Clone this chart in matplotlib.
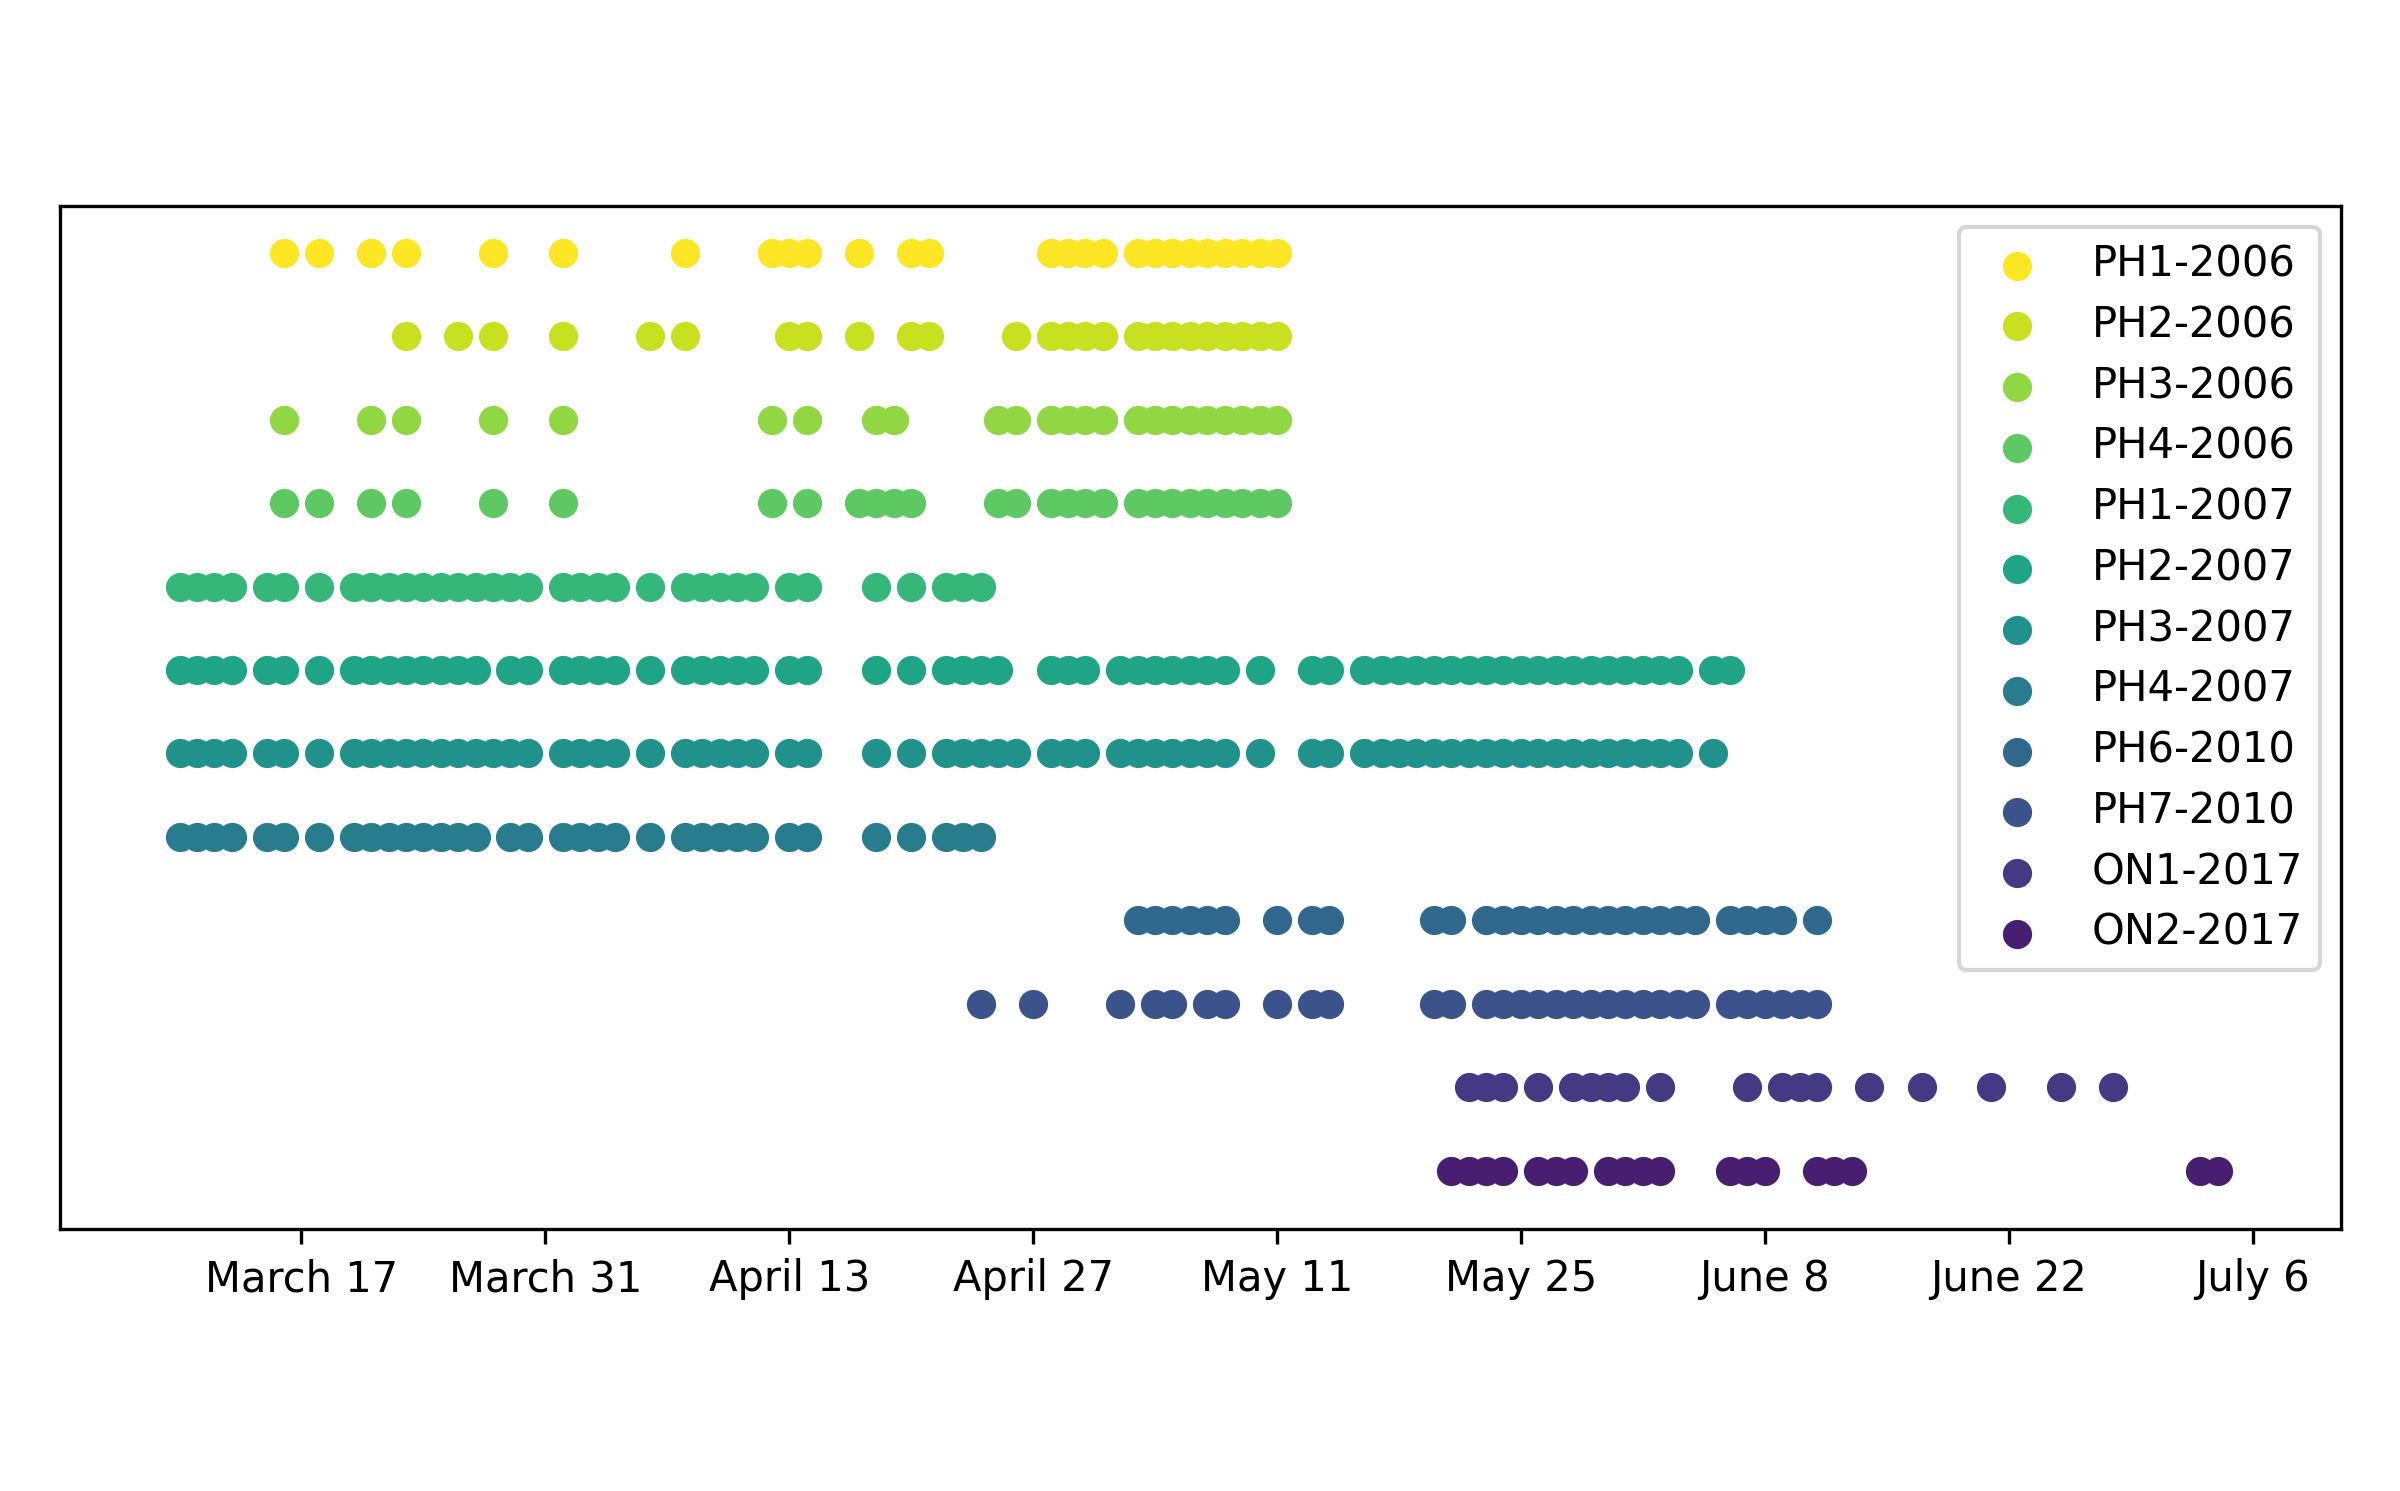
import numpy as np
import matplotlib
matplotlib.use('Agg')
import matplotlib.pyplot as plt

# jours (jour de l'annee) ou chaque site a ete observe
ph1_2006 = [75, 77, 80, 82, 87, 91, 98, 103, 104, 105, 108, 111, 112, 119, 120, 121, 122,
            124, 125, 126, 127, 128, 129, 130, 131, 132]
ph2_2006 = [82, 85, 87, 91, 96, 98, 104, 105, 108, 111, 112, 117, 119, 120, 121, 122,
            124, 125, 126, 127, 128, 129, 130, 131, 132]
ph3_2006 = [75, 80, 82, 87, 91, 103, 105, 109, 110, 116, 117, 119, 120, 121, 122,
            124, 125, 126, 127, 128, 129, 130, 131, 132]
ph4_2006 = [75, 77, 80, 82, 87, 91, 103, 105, 108, 109, 110, 111, 116, 117, 119, 120, 121, 122,
            124, 125, 126, 127, 128, 129, 130, 131, 132]
ph1_2007 = [69, 70, 71, 72, 74, 75, 77, 79, 80, 81, 82, 83, 84, 85, 86, 87, 88, 89,
            91, 92, 93, 94, 96, 98, 99, 100, 101, 102, 104, 105, 109, 111, 113, 114, 115]
ph2_2007 = [69, 70, 71, 72, 74, 75, 77, 79, 80, 81, 82, 83, 84, 85, 86, 88, 89,
            91, 92, 93, 94, 96, 98, 99, 100, 101, 102, 104, 105, 109, 111, 113, 114, 115, 116,
            119, 120, 121, 123, 124, 125, 126, 127, 128, 129, 131, 134, 135,
            137, 138, 139, 140, 141, 142, 143, 144, 145, 146, 147, 148, 149, 150, 151, 152, 153,
            154, 155, 157, 158]
ph3_2007 = [69, 70, 71, 72, 74, 75, 77, 79, 80, 81, 82, 83, 84, 85, 86, 87, 88, 89,
            91, 92, 93, 94, 96, 98, 99, 100, 101, 102, 104, 105, 109, 111, 113, 114, 115, 116, 117,
            119, 120, 121, 123, 124, 125, 126, 127, 128, 129, 131, 134, 135,
            137, 138, 139, 140, 141, 142, 143, 144, 145, 146, 147, 148, 149, 150, 151, 152, 153,
            154, 155, 157]
ph4_2007 = [69, 70, 71, 72, 74, 75, 77, 79, 80, 81, 82, 83, 84, 85, 86, 88, 89,
            91, 92, 93, 94, 96, 98, 99, 100, 101, 102, 104, 105, 109, 111, 113, 114, 115]
ph6_2010 = [124, 125, 126, 127, 128, 129, 132, 134, 135, 141, 142,
            144, 145, 146, 147, 148, 149, 150, 151, 152, 153, 154, 155, 156,
            158, 159, 160, 161, 163]
ph7_2010 = [115, 118, 123, 125, 126, 128, 129, 132, 134, 135, 141, 142,
            144, 145, 146, 147, 148, 149, 150, 151, 152, 153, 154, 155, 156,
            158, 159, 160, 161, 162, 163]
on1_2017 = [143, 144, 145, 147, 149, 150, 151, 152, 154, 159, 161, 162, 163,
            166, 169, 173, 177, 180]
on2_2017 = [142, 143, 144, 145, 147, 148, 149, 151, 152, 153, 154, 158, 159, 160,
            163, 164, 165, 185, 186]

noms = ['PH1-2006', 'PH2-2006', 'PH3-2006', 'PH4-2006', 'PH1-2007', 'PH2-2007',
        'PH3-2007', 'PH4-2007', 'PH6-2010', 'PH7-2010', 'ON1-2017', 'ON2-2017']
jours = [ph1_2006, ph2_2006, ph3_2006, ph4_2006, ph1_2007, ph2_2007,
         ph3_2007, ph4_2007, ph6_2010, ph7_2010, on1_2017, on2_2017]

tick_pos = [76, 90, 104, 118, 132, 146, 160, 174, 188]
tick_lab = ['March 17', 'March 31', 'April 13', 'April 27', 'May 11',
            'May 25', 'June 8', 'June 22', 'July 6']

fig = plt.figure(figsize=(8, 4.97), dpi=300)
ax = fig.add_axes([0.025, 0.1757, 0.9503, 0.6861])

n = len(noms)
cmap = plt.get_cmap('viridis')
for i in range(n):
    y = n - i   # le premier site en haut
    ax.scatter(jours[i], [y] * len(jours[i]), color=cmap(y / n), label=noms[i])

ax.set_xticks(tick_pos)
ax.set_xticklabels(tick_lab)
ax.set_yticks([])
ax.set_xlim(62.14, 193.06)
ax.set_ylim(0.30, 12.56)
ax.legend(loc='upper right', labelspacing=0.45)

fig.savefig('out.png', dpi=300)
